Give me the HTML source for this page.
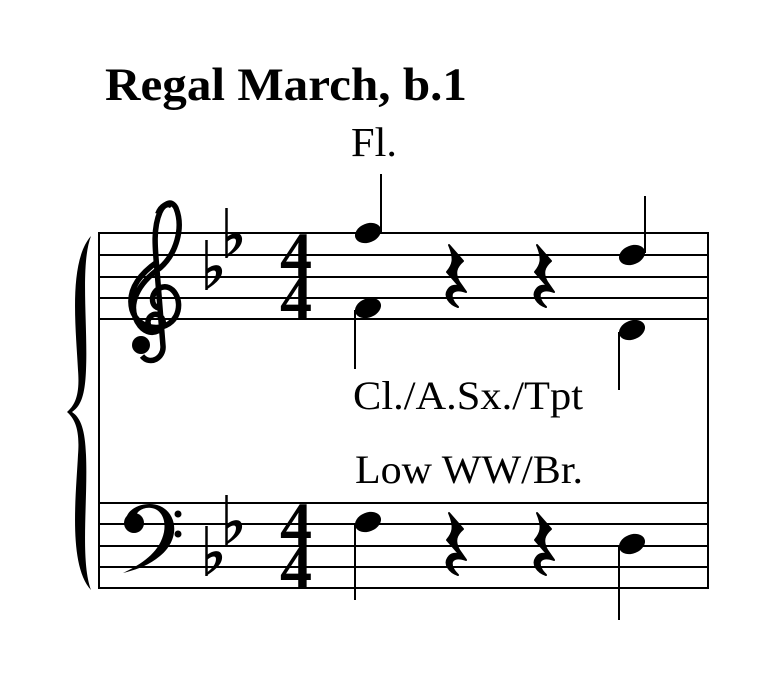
<!DOCTYPE html>
<html><head><style>
html,body{margin:0;padding:0;background:#fff;}
svg{display:block;}
text{font-family:"Liberation Serif",serif;fill:#000;}
</style></head><body>
<svg width="778" height="685" viewBox="0 0 778 685" xmlns="http://www.w3.org/2000/svg">
<text x="105" y="100" font-size="47" font-weight="bold" textLength="362" lengthAdjust="spacingAndGlyphs">Regal March, b.1</text>
<text x="351" y="156" font-size="41" textLength="46" lengthAdjust="spacingAndGlyphs">Fl.</text>
<text x="353" y="409" font-size="40" textLength="230" lengthAdjust="spacingAndGlyphs">Cl./A.Sx./Tpt</text>
<text x="355" y="483" font-size="40" textLength="228" lengthAdjust="spacingAndGlyphs">Low WW/Br.</text>
<g stroke="#000" stroke-width="2" fill="none">
<line x1="98" y1="233" x2="709" y2="233"/><line x1="98" y1="255" x2="709" y2="255"/><line x1="98" y1="277" x2="709" y2="277"/><line x1="98" y1="298" x2="709" y2="298"/><line x1="98" y1="319" x2="709" y2="319"/>
<line x1="98" y1="503" x2="709" y2="503"/><line x1="98" y1="524" x2="709" y2="524"/><line x1="98" y1="546" x2="709" y2="546"/><line x1="98" y1="567" x2="709" y2="567"/><line x1="98" y1="588" x2="709" y2="588"/>
<line x1="99" y1="232" x2="99" y2="589"/><line x1="708" y1="232" x2="708" y2="589"/>
<line x1="381" y1="174" x2="381" y2="232"/>
<line x1="355" y1="310" x2="355" y2="369"/>
<line x1="645" y1="196" x2="645" y2="253"/>
<line x1="619" y1="332" x2="619" y2="390"/>
<line x1="355" y1="524" x2="355" y2="600"/>
<line x1="619" y1="545" x2="619" y2="620"/>
</g>
<path d="M91,236 C68,262 76,330 78,370 C80,395 75,405 67,412 C75,419 80,430 78,455 C76,495 68,565 91,590 C80,560 88,500 86,455 C85,430 81,418 72,412 C81,406 85,395 86,370 C88,325 80,265 91,236 Z" fill="#000"/>
<g fill="#000">
<ellipse cx="368" cy="233" rx="13.5" ry="9.5" transform="rotate(-22 368 233)"/>
<ellipse cx="368" cy="308" rx="13.5" ry="9.5" transform="rotate(-22 368 308)"/>
<ellipse cx="632" cy="255" rx="13.5" ry="9.5" transform="rotate(-22 632 255)"/>
<ellipse cx="632" cy="330" rx="13.5" ry="9.5" transform="rotate(-22 632 330)"/>
<ellipse cx="368" cy="522" rx="13.5" ry="9.5" transform="rotate(-22 368 522)"/>
<ellipse cx="632" cy="544" rx="13.5" ry="9.5" transform="rotate(-22 632 544)"/>
</g>
<g id="rest" fill="#000" stroke="#000" stroke-width="2" stroke-linejoin="round">
<path d="M449,245 L463,261 C456,267 454,273 459,282 L466,292 C458,289 450,290 452,298 C453,302 456,305 458,307 C449,304 444,296 448,290 C451,285 457,285 460,287 L447,272 C453,265 455,259 449,245 Z"/>
</g>
<use href="#rest" transform="translate(88,0)"/>
<use href="#rest" transform="translate(0,268)"/>
<use href="#rest" transform="translate(88,268)"/>
<text x="280" y="276" font-size="64" font-weight="bold">4</text>
<text x="280" y="319" font-size="64" font-weight="bold">4</text>
<text x="280" y="546" font-size="64" font-weight="bold">4</text>
<text x="280" y="588" font-size="64" font-weight="bold">4</text>
<g id="fl" fill="#000" stroke="#000">
<line x1="206.5" y1="240" x2="206.5" y2="290" stroke-width="2.5"/>
<path d="M206,290 C215,284 223,278 222,270 C221,263 212,264 206,270 L206,275 C211,270 216,269 216,273 C216,278 212,283 206,287 Z" stroke="none"/>
</g>
<use href="#fl" transform="translate(20,-32)"/>
<use href="#fl" transform="translate(0,286)"/>
<use href="#fl" transform="translate(20,255)"/>
<path d="M150,328 C143,318 156,309 162,318 C168,328 152,340 140,326 C124,305 140,282 160,268 C176,254 184,228 176,208 C172,200 165,202 160,212 C153,228 155,248 157,270 L163,346 C164,358 150,366 142,356 M157,262 C140,274 127,290 132,310 C138,330 166,334 176,316 C184,300 172,282 160,288 C150,292 150,308 160,308" fill="none" stroke="#000" stroke-width="5.5"/>
<path d="M158,214 C161,206 168,202 172,206" fill="none" stroke="#000" stroke-width="6"/>
<circle cx="141" cy="345" r="9" fill="#000"/>
<path d="M126,523 C124,508 146,500 160,506 C178,514 180,540 160,556 C148,566 135,570 123,573 C142,564 160,552 164,532 C167,514 156,506 146,508 C136,510 134,518 138,520 Z" fill="#000"/>
<circle cx="134" cy="523" r="10" fill="#000"/>
<circle cx="178" cy="514" r="3.5" fill="#000"/>
<circle cx="178" cy="534" r="3.5" fill="#000"/>
</svg>
</body></html>
